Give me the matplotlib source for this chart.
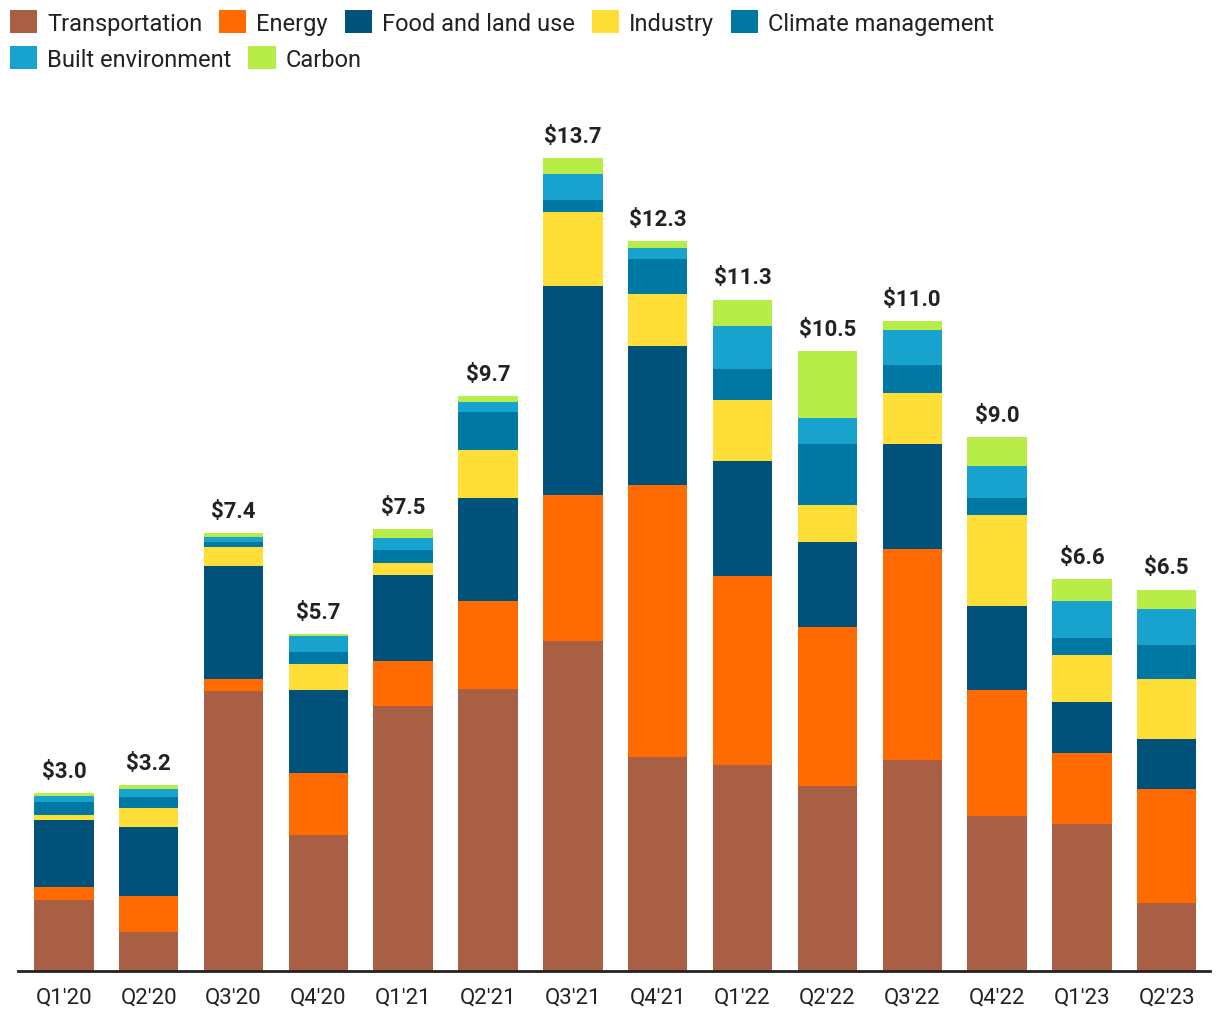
import numpy as np
import matplotlib.pyplot as plt
from matplotlib.patches import Patch

plt.rcParams['font.family'] = ['Roboto', 'DejaVu Sans']

quarters = ["Q1'20", "Q2'20", "Q3'20", "Q4'20", "Q1'21", "Q2'21", "Q3'21",
            "Q4'21", "Q1'22", "Q2'22", "Q3'22", "Q4'22", "Q1'23", "Q2'23"]
totals = [3.0, 3.2, 7.4, 5.7, 7.5, 9.7, 13.7, 12.3, 11.3, 10.5, 11.0, 9.0, 6.6, 6.5]

transportation = [1.20, 0.66, 4.72, 2.29, 4.47, 4.76, 5.57, 3.61, 3.47, 3.12, 3.56, 2.61, 2.48, 1.15]
energy = [0.21, 0.61, 0.20, 1.05, 0.76, 1.47, 2.46, 4.59, 3.19, 2.68, 3.56, 2.12, 1.20, 1.92]
food_land = [1.14, 1.15, 1.90, 1.40, 1.45, 1.74, 3.52, 2.33, 1.94, 1.43, 1.77, 1.42, 0.86, 0.84]
industry = [0.08, 0.32, 0.32, 0.44, 0.20, 0.81, 1.25, 0.89, 1.03, 0.62, 0.86, 1.53, 0.78, 1.01]
climate_mgmt = [0.22, 0.20, 0.10, 0.20, 0.22, 0.64, 0.20, 0.59, 0.52, 1.03, 0.47, 0.29, 0.30, 0.57]
built_env = [0.10, 0.12, 0.07, 0.27, 0.20, 0.17, 0.44, 0.17, 0.73, 0.44, 0.59, 0.54, 0.61, 0.62]
carbon = [0.05, 0.07, 0.08, 0.03, 0.15, 0.10, 0.27, 0.13, 0.44, 1.13, 0.15, 0.49, 0.37, 0.32]

sectors = ["Transportation", "Energy", "Food and land use", "Industry",
           "Climate management", "Built environment", "Carbon"]
colors = ["#A95F43", "#FF6B00", "#00527A", "#FFDE38", "#0078A4", "#18A2CE", "#B8EC46"]
series = [transportation, energy, food_land, industry, climate_mgmt, built_env, carbon]

fig = plt.figure(figsize=(12.2, 10.2), dpi=100)
ax = fig.add_axes([18 / 1220, 48 / 1020, (1210 - 18) / 1220, (972 - 100) / 1020])

x = np.arange(len(quarters))
bottom = np.zeros(len(quarters))
for vals, col, name in zip(series, colors, sectors):
    ax.bar(x, vals, 0.70, bottom=bottom, color=col, label=name, linewidth=0)
    bottom += np.array(vals)

# totals above each stack
for xi, top, t in zip(x, bottom, totals):
    ax.annotate(f"${t:.1f}", (xi, top), xytext=(0, 8), textcoords='offset points',
                ha='center', va='bottom', fontsize=16, fontweight='bold', color='#222222')

ax.set_xlim(-0.54, 13.51)
ax.set_ylim(0, 14.7)
ax.set_xticks(x)
ax.set_xticklabels(quarters, fontsize=16, color='#222222')
ax.tick_params(axis='x', length=0, pad=11)
ax.set_yticks([])
for s in ['top', 'right', 'left']:
    ax.spines[s].set_visible(False)
ax.spines['bottom'].set_linewidth(2)
ax.spines['bottom'].set_color('#222222')

handles = [Patch(facecolor=c, label=n) for c, n in zip(colors, sectors)]
leg_kw = dict(frameon=False, fontsize=17, handlelength=1.15, handleheight=1.15,
              handletextpad=0.42, columnspacing=0.72, borderpad=0, borderaxespad=0,
              labelcolor='#222222', loc='upper left')
leg1 = fig.legend(handles=handles[:5], ncol=5, bbox_to_anchor=(10 / 1220, 1 - 11 / 1020), **leg_kw)
leg2 = fig.legend(handles=handles[5:], ncol=2, bbox_to_anchor=(10 / 1220, 1 - 47 / 1020), **leg_kw)

fig.savefig('out.png', dpi=100)
